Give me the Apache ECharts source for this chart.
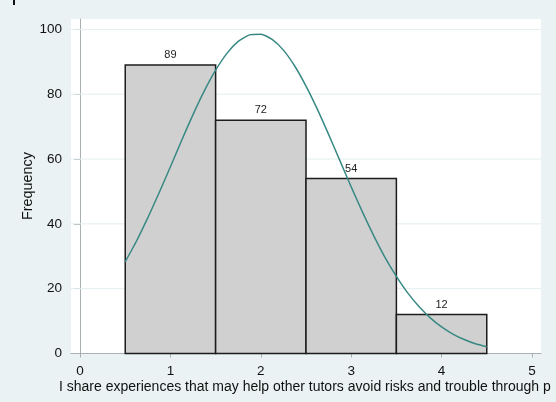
<!DOCTYPE html>
<html>
<head>
<meta charset="utf-8">
<script src="https://cdn.jsdelivr.net/npm/echarts@6/dist/echarts.min.js"></script>
<style>
  html, body { margin: 0; padding: 0; background: #eaf2f3; }
  #chart { width: 556px; height: 402px; }
</style>
</head>
<body>
<div id="chart"></div>
<script>
// Histogram bins (left edge, width) and their frequencies
const binStarts = [0.5, 1.5, 2.5, 3.5];
const binWidth = 1;
const frequencies = [89, 72, 54, 12];

// Normal-density overlay, sampled along the x axis
const curveX = [0.5, 0.625, 0.75, 0.875, 1.0, 1.125, 1.25, 1.375, 1.5, 1.625, 1.75, 1.875,
                2.0, 2.125, 2.25, 2.375, 2.5, 2.625, 2.75, 2.875, 3.0, 3.125, 3.25, 3.375,
                3.5, 3.625, 3.75, 3.875, 4.0, 4.125, 4.25, 4.375, 4.5];
const curveY = [28.3, 34.7, 41.9, 49.6, 57.6, 65.8, 73.7, 81.0, 87.4, 92.6, 96.3, 98.3,
                98.5, 96.9, 93.6, 88.7, 82.5, 75.4, 67.6, 59.5, 51.4, 43.6, 36.3, 29.6,
                23.8, 18.7, 14.5, 11.0, 8.2, 6.0, 4.3, 3.0, 2.1];

// Axis ticks
const xTicks = [0, 1, 2, 3, 4, 5];
const yTicks = [0, 20, 40, 60, 80, 100];

const xTitle = 'I share experiences that may help other tutors avoid risks and trouble through p';
const yTitle = 'Frequency';

const FONT = 'Liberation Sans, Arial, sans-serif';

const barData = binStarts.map((s, i) => [s, s + binWidth, frequencies[i]]);
const curveData = curveX.map((x, i) => [x, curveY[i]]);

const chart = echarts.init(document.getElementById('chart'), null, { renderer: 'canvas' });

chart.setOption({
  backgroundColor: '#eaf2f3',
  animation: false,
  grid: {
    left: 71, right: 15, top: 19, bottom: 48.5,
    show: true, backgroundColor: '#ffffff', borderWidth: 0
  },
  xAxis: {
    type: 'value', min: -0.1, max: 5.1,
    axisLine: { show: true, onZero: false, lineStyle: { color: '#a9b0b2', width: 1 } },
    axisTick: { show: true, length: 4, lineStyle: { color: '#a9b0b2' }, customValues: xTicks },
    axisLabel: { customValues: xTicks, color: '#111', fontSize: 13.5, fontFamily: FONT, margin: 11 },
    splitLine: { show: false }
  },
  yAxis: {
    type: 'value', min: 0, max: 103.2,
    axisLine: { show: true, lineStyle: { color: '#a9b0b2', width: 1 } },
    axisTick: { show: true, length: 6, lineStyle: { color: '#a9b0b2' }, customValues: yTicks },
    axisLabel: { customValues: yTicks, color: '#111', fontSize: 13.5, fontFamily: FONT, margin: 9 },
    splitLine: { show: false }
  },
  series: [
    {
      // light horizontal reference lines at the y ticks
      type: 'custom',
      silent: true,
      z: 1,
      data: yTicks.filter(v => v > 0).map(v => [v]),
      renderItem: function (params, api) {
        const y = api.coord([0, api.value(0)])[1];
        const cs = params.coordSys;
        return {
          type: 'line',
          shape: { x1: cs.x, y1: y, x2: cs.x + cs.width, y2: y },
          style: { stroke: '#e4eef0', lineWidth: 1 }
        };
      }
    },
    {
      type: 'custom',
      z: 2,
      data: barData,
      renderItem: function (params, api) {
        const p0 = api.coord([api.value(0), 0]);
        const p1 = api.coord([api.value(1), api.value(2)]);
        return {
          type: 'group',
          children: [
            {
              type: 'rect',
              shape: { x: p0[0], y: p1[1], width: p1[0] - p0[0], height: p0[1] - p1[1] },
              style: { fill: '#d0d0d0', stroke: '#1c1c1c', lineWidth: 1.5 }
            },
            {
              type: 'text',
              style: {
                x: (p0[0] + p1[0]) / 2, y: p1[1] - 10,
                text: String(api.value(2)),
                fill: '#222', font: '11px ' + FONT,
                align: 'center', verticalAlign: 'middle'
              }
            }
          ]
        };
      }
    },
    {
      type: 'line',
      z: 3,
      data: curveData,
      smooth: 0.2,
      showSymbol: false,
      lineStyle: { color: '#388984', width: 1.5 }
    }
  ],
  graphic: [
    {
      type: 'text', left: 59, top: 380,
      style: { text: xTitle, fill: '#111', font: '14px ' + FONT }
    },
    {
      type: 'text', x: 28, y: 186, rotation: Math.PI / 2,
      style: { text: yTitle, fill: '#111', font: '14.4px ' + FONT, align: 'center', verticalAlign: 'middle' }
    },
    {
      type: 'rect', shape: { x: 13, y: 0, width: 2, height: 5 },
      style: { fill: '#111' }
    }
  ]
});
</script>
</body>
</html>
